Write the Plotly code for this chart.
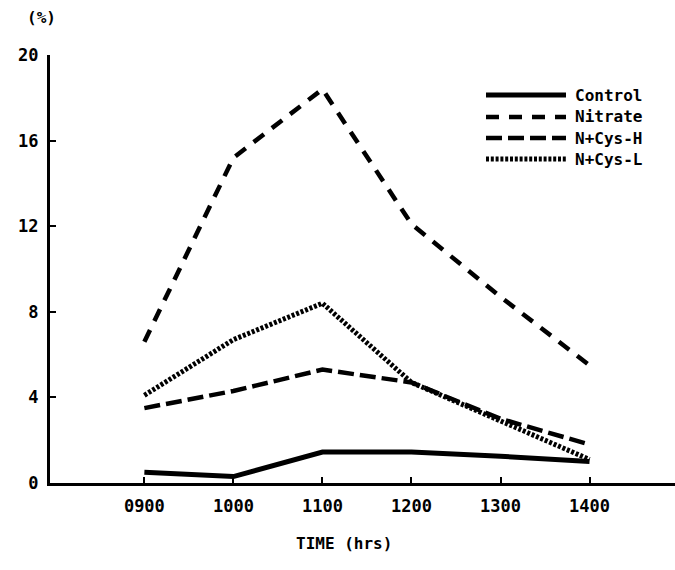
import plotly.graph_objects as go

hours = [9, 10, 11, 12, 13, 14]
tick_labels = ["0900", "1000", "1100", "1200", "1300", "1400"]
control = [0.5, 0.3, 1.45, 1.45, 1.25, 1.0]
nitrate = [6.6, 15.2, 18.4, 12.1, 8.7, 5.5]
cys_h = [3.5, 4.3, 5.3, 4.7, 3.0, 1.8]
cys_l = [4.1, 6.7, 8.4, 4.7, 2.9, 1.1]
y_ticks = [0, 4, 8, 12, 16, 20]
series_names = ["Control", "Nitrate", "N+Cys-H", "N+Cys-L"]

FONT = "DejaVu Sans Mono"
styles = [
    dict(width=5, dash="solid"),
    dict(width=4.5, dash="13px,10px"),
    dict(width=4.5, dash="16px,6px"),
    dict(width=5, dash="3px,1.8px"),
]
data = [control, nitrate, cys_h, cys_l]

fig = go.Figure()
for name, vals, st in zip(series_names, data, styles):
    fig.add_trace(go.Scatter(x=hours, y=vals, mode="lines", name=name,
                             line=dict(color="black", width=st["width"], dash=st["dash"]),
                             showlegend=False))

L, R, T, B = 50, 0, 55, 87
W, H = 675, 570
pw, ph = W - L - R, H - T - B

def px(xp):
    return (xp - L) / pw

def py(yp):
    return (H - B - yp) / ph

# manual legend
leg_y = [95, 117, 138, 159]
for name, st, yy in zip(series_names, styles, leg_y):
    fig.add_shape(type="line", xref="paper", yref="paper",
                  x0=px(486), x1=px(566), y0=py(yy), y1=py(yy),
                  line=dict(color="black", width=st["width"], dash=st["dash"]))
    fig.add_annotation(xref="paper", yref="paper", x=px(573), y=py(yy),
                       text="<b>%s</b>" % name, showarrow=False, xanchor="left",
                       yanchor="middle", font=dict(family=FONT, size=16, color="black"))

fig.add_annotation(xref="paper", yref="paper", x=px(41), y=py(17), text="<b>(%)</b>",
                   showarrow=False, xanchor="center", yanchor="middle",
                   font=dict(family=FONT, size=16, color="black"))
fig.add_annotation(xref="paper", yref="paper", x=px(344), y=py(543), text="<b>TIME (hrs)</b>",
                   showarrow=False, xanchor="center", yanchor="middle",
                   font=dict(family=FONT, size=16, color="black"))

fig.update_layout(
    width=W, height=H, margin=dict(l=L, r=R, t=T, b=B),
    paper_bgcolor="white", plot_bgcolor="white",
    font=dict(family=FONT, size=16, color="black"),
    xaxis=dict(range=[7.94, 14.96], tickvals=hours, ticktext=["<b>%s</b>" % t for t in tick_labels],
               showgrid=False, zeroline=False, showline=True, linecolor="black", linewidth=3,
               ticks="inside", ticklen=6, tickwidth=2, tickcolor="black",
               ticklabelstandoff=6, tickfont=dict(size=17)),
    yaxis=dict(range=[0, 20], tickvals=y_ticks, ticktext=["<b>%d</b>" % v for v in y_ticks],
               showgrid=False, zeroline=False, showline=True, linecolor="black", linewidth=3,
               ticks="inside", ticklen=6, tickwidth=2, tickcolor="black",
               ticklabelstandoff=5, tickfont=dict(size=17)),
)

fig.write_html("out.html", config={"displayModeBar": False},
               post_script="document.body.style.margin='0';document.body.style.overflow='hidden';")
